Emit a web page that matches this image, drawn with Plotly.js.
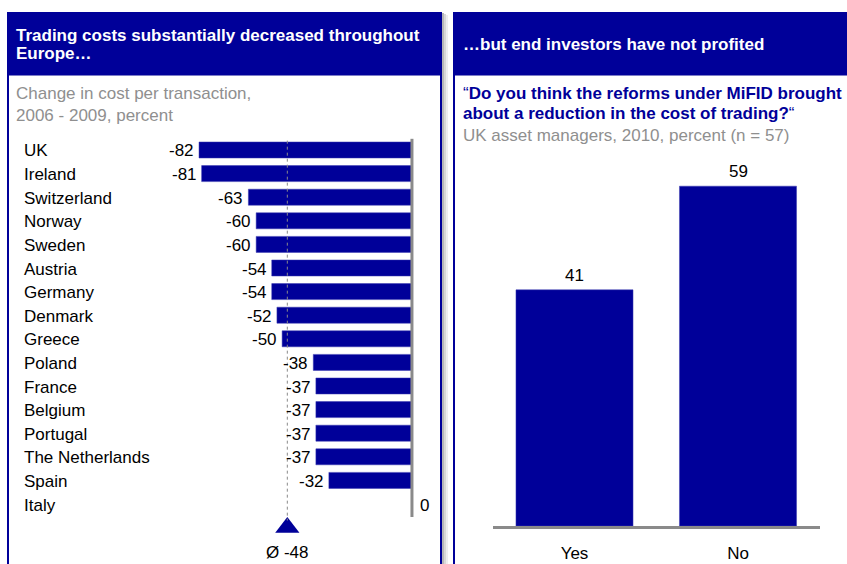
<!DOCTYPE html>
<html>
<head>
<meta charset="utf-8">
<script src="https://cdn.plot.ly/plotly-3.0.1.min.js"></script>
<style>html,body{margin:0;padding:0;background:#fff;}#chart{width:847px;height:564px;}</style>
</head>
<body>
<div id="chart"></div>
<script>
// ---- data ----
const countries = ['UK','Ireland','Switzerland','Norway','Sweden','Austria','Germany','Denmark','Greece','Poland','France','Belgium','Portugal','The Netherlands','Spain','Italy'];
const costChange = [-82,-81,-63,-60,-60,-54,-54,-52,-50,-38,-37,-37,-37,-37,-32,0];
const avgChange = -48;
const answers = ['Yes','No'];
const answerShares = [41,59];

// ---- helpers (layout only) ----
const W = 847, H = 564;
const px = v => v / W;
const py = v => 1 - v / H;
const BLUE = '#000099';
const GRAY = '#8f8f8f';
const FONT = 'Liberation Sans, Arial, Helvetica, sans-serif';

const rowIdx = countries.map((c, i) => i);

const traces = [
  {
    type: 'bar', orientation: 'h',
    x: costChange, y: rowIdx,
    width: 0.68,
    marker: {color: BLUE, line: {color: '#3a3ab0', width: 0.5}},
    xaxis: 'x', yaxis: 'y', hoverinfo: 'skip'
  },
  {
    type: 'scatter', mode: 'markers',
    x: [avgChange], y: [countries.length],
    marker: {symbol: 'triangle-up', size: 21, color: BLUE},
    xaxis: 'x', yaxis: 'y', hoverinfo: 'skip'
  },
  {
    type: 'bar',
    x: answers, y: answerShares,
    width: 0.716,
    marker: {color: BLUE, line: {color: '#3a3ab0', width: 0.5}},
    xaxis: 'x2', yaxis: 'y2', hoverinfo: 'skip'
  }
];

const annotations = [];
const txt = (x, y, text, opts) => Object.assign({
  xref: 'paper', yref: 'paper', x: x, y: y, text: text, showarrow: false,
  xanchor: 'left', yanchor: 'middle', font: {family: FONT, size: 17, color: '#000'}
}, opts || {});

// headers
annotations.push(txt(px(14), py(35), '<b>Trading costs substantially decreased throughout</b>', {font: {family: FONT, size: 17, color: '#fff'}}));
annotations.push(txt(px(14), py(53), '<b>Europe…</b>', {font: {family: FONT, size: 17, color: '#fff'}}));
annotations.push(txt(px(461), py(44), '<b>…but end investors have not profited</b>', {font: {family: FONT, size: 17, color: '#fff'}}));
// subtitles
annotations.push(txt(px(14), py(93), 'Change in cost per transaction,', {font: {family: FONT, size: 17, color: GRAY}}));
annotations.push(txt(px(14), py(115), '2006 - 2009, percent', {font: {family: FONT, size: 17, color: GRAY}}));
annotations.push(txt(px(461), py(93), '“<b>Do you think the reforms under MiFID brought</b>', {font: {family: FONT, size: 17, color: BLUE}}));
annotations.push(txt(px(461), py(113), '<b>about a reduction in the cost of trading?</b>“', {font: {family: FONT, size: 17, color: BLUE}}));
annotations.push(txt(px(461), py(135), 'UK asset managers, 2010, percent (n = 57)', {font: {family: FONT, size: 17, color: GRAY}}));

// country labels & values
countries.forEach((c, i) => {
  annotations.push({xref: 'paper', yref: 'y', x: px(22), y: i, text: c, showarrow: false,
    xanchor: 'left', yanchor: 'middle', yshift: -1, font: {family: FONT, size: 17, color: '#000'}});
  const v = costChange[i];
  annotations.push({xref: 'x', yref: 'y', x: v, y: i, text: String(v), showarrow: false,
    xanchor: v < 0 ? 'right' : 'left', xshift: v < 0 ? -3 : 6, yanchor: 'middle', yshift: -1,
    font: {family: FONT, size: 17, color: '#000'}});
});
annotations.push({xref: 'x', yref: 'y', x: avgChange, y: countries.length + 1, text: 'Ø ' + avgChange,
  showarrow: false, xanchor: 'center', yanchor: 'middle', yshift: -1, font: {family: FONT, size: 17, color: '#000'}});

answers.forEach((a, i) => {
  annotations.push({xref: 'x2', yref: 'y2', x: a, y: answerShares[i], text: String(answerShares[i]),
    showarrow: false, xanchor: 'center', yanchor: 'bottom', yshift: 3,
    font: {family: FONT, size: 17, color: '#000'}});
});

const shapes = [
  // left panel shadow
  {type: 'rect', xref: 'paper', yref: 'paper', x0: px(442), x1: px(444), y0: py(564), y1: py(13), fillcolor: '#b8b8b8', line: {width: 0}, layer: 'below'},
  {type: 'rect', xref: 'paper', yref: 'paper', x0: px(444), x1: px(446), y0: py(564), y1: py(14), fillcolor: '#d8d8d8', line: {width: 0}, layer: 'below'},
  {type: 'rect', xref: 'paper', yref: 'paper', x0: px(446), x1: px(448), y0: py(564), y1: py(15), fillcolor: '#eeeeee', line: {width: 0}, layer: 'below'},
  // headers
  {type: 'rect', xref: 'paper', yref: 'paper', x0: px(7), x1: px(442), y0: py(75), y1: py(12), fillcolor: BLUE, line: {width: 0}, layer: 'below'},
  {type: 'rect', xref: 'paper', yref: 'paper', x0: px(453), x1: px(847), y0: py(75), y1: py(12), fillcolor: BLUE, line: {width: 0}, layer: 'below'},
  {type: 'rect', xref: 'paper', yref: 'paper', x0: px(9), x1: px(440), y0: py(76), y1: py(75), fillcolor: '#7d7dc8', line: {width: 0}, layer: 'below'},
  {type: 'rect', xref: 'paper', yref: 'paper', x0: px(455), x1: px(847), y0: py(76), y1: py(75), fillcolor: '#7d7dc8', line: {width: 0}, layer: 'below'},
  // borders
  {type: 'rect', xref: 'paper', yref: 'paper', x0: px(7), x1: px(9), y0: py(564), y1: py(12), fillcolor: BLUE, line: {width: 0}, layer: 'below'},
  {type: 'rect', xref: 'paper', yref: 'paper', x0: px(440), x1: px(442), y0: py(564), y1: py(12), fillcolor: BLUE, line: {width: 0}, layer: 'below'},
  {type: 'rect', xref: 'paper', yref: 'paper', x0: px(453), x1: px(455), y0: py(564), y1: py(12), fillcolor: BLUE, line: {width: 0}, layer: 'below'},
  // average dashed line
  {type: 'line', xref: 'x', yref: 'y', x0: avgChange, x1: avgChange, y0: -0.65, y1: countries.length - 0.3,
    line: {color: '#8a8a8a', width: 1, dash: '3px,3px'}, layer: 'above'},
  // zero line
  {type: 'line', xref: 'x', yref: 'y', x0: 0, x1: 0, y0: -0.48, y1: countries.length - 0.45,
    line: {color: '#8a8a8a', width: 3}, layer: 'above'}
];

const layout = {
  width: W, height: H,
  margin: {l: 0, r: 0, t: 0, b: 0},
  paper_bgcolor: '#fff', plot_bgcolor: 'rgba(0,0,0,0)',
  showlegend: false,
  font: {family: FONT, size: 17, color: '#000'},
  bargap: 0,
  xaxis: {domain: [px(178), px(421)], range: [-90.1, 3.48], visible: false, fixedrange: true, anchor: 'y'},
  yaxis: {domain: [0, py(138.2)], range: [-0.5 + (564 - 138.2) / 23.6, -0.5], visible: false, fixedrange: true, anchor: 'x'},
  xaxis2: {domain: [px(492.75), px(819.75)], range: [-0.5, 1.5], type: 'category', anchor: 'y2',
    showline: true, linecolor: '#8a8a8a', linewidth: 3, ticks: '', showgrid: false, zeroline: false,
    ticklabelstandoff: 10,
    tickfont: {family: FONT, size: 17, color: '#000'}, fixedrange: true},
  yaxis2: {domain: [py(526), py(151.6)], range: [0, 65], visible: false, anchor: 'x2', fixedrange: true},
  annotations: annotations,
  shapes: shapes
};

Plotly.newPlot('chart', traces, layout, {staticPlot: true, displayModeBar: false});
</script>
</body>
</html>
